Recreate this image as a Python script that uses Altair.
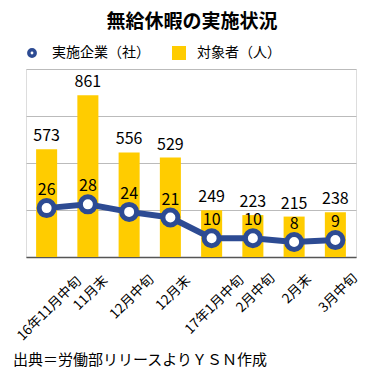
import altair as alt
import pandas as pd

# ---- data ----
categories = ["16年11月中旬", "11月末", "12月中旬", "12月末", "17年1月中旬", "2月中旬", "2月末", "3月中旬"]
workers = [573, 861, 556, 529, 249, 223, 215, 238]      # 対象者（人）
companies = [26, 28, 24, 21, 10, 10, 8, 9]              # 実施企業（社）
legend_labels = ["実施企業（社）", "対象者（人）"]
title_text = "無給休暇の実施状況"
source_text = "出典＝労働部リリースよりＹＳＮ作成"

df = pd.DataFrame({"cat": categories, "workers": workers, "companies": companies})

FONT = "Noto Sans CJK JP"
NAVY = "#2D4B93"
YELLOW = "#FFCC00"

x_enc = alt.X(
    "cat:N",
    sort=categories,
    scale=alt.Scale(paddingInner=0.49, paddingOuter=0.245),
    axis=alt.Axis(
        title=None, labelAngle=-45, labelAlign="center", labelBaseline="middle",
        labelFontSize=13.5, labelFont=FONT, labelColor="#000000",
        labelPadding={"expr": "20 + 3.9 * length(datum.label)"},
        labelOffset=3, labelOverlap=False, labelBound=False, labelFlush=False,
        ticks=False, grid=False,
        domainColor="#555555", domainWidth=1.5,
    ),
)

y_bar = alt.Y(
    "workers:Q",
    scale=alt.Scale(domain=[0, 1000], nice=False),
    axis=alt.Axis(title=None, labels=False, ticks=False, domain=False,
                  values=[0, 250, 500, 750, 1000], grid=True,
                  gridColor="#BBBBBB", gridWidth=1),
)
y_line = alt.Y("companies:Q", scale=alt.Scale(domain=[0, 100], nice=False), axis=None)

base = alt.Chart(df)

bars = base.mark_bar(color=YELLOW).encode(x=x_enc, y=y_bar)
bar_text = base.mark_text(font=FONT, fontSize=16, color="#000000", baseline="middle", dy=-13).encode(
    x=x_enc, y=y_bar, text=alt.Text("workers:Q"))
bar_layer = alt.layer(bars, bar_text)

line = base.mark_line(color=NAVY, strokeWidth=6).encode(x=x_enc, y=y_line)
pts = base.mark_circle(color="white", opacity=1, stroke=NAVY, strokeWidth=5, size=225).encode(x=x_enc, y=y_line)
line_text = base.mark_text(font=FONT, fontSize=16, color="#000000", baseline="middle", dy=-18).encode(
    x=x_enc, y=y_line, text=alt.Text("companies:Q"))
line_layer = alt.layer(line, pts, line_text)

main = alt.layer(bar_layer, line_layer).resolve_scale(y="independent")

# ---- title, legend, source as text ----
title_df = pd.DataFrame({"t": [title_text]})
title = alt.Chart(title_df).mark_text(font=FONT, fontSize=19, fontWeight="bold", color="#000000",
                                      align="center", baseline="middle").encode(
    x=alt.value(166), y=alt.value(-47), text="t:N")

leg1 = pd.DataFrame({"t": [legend_labels[0]]})
leg2 = pd.DataFrame({"t": [legend_labels[1]]})
leg_circle = alt.Chart(leg1).mark_point(shape="circle", filled=False, color=NAVY, strokeWidth=3.5, size=40, opacity=1).encode(
    x=alt.value(6), y=alt.value(-16))
leg_text1 = alt.Chart(leg1).mark_text(font=FONT, fontSize=14, color="#000000", align="left", baseline="middle").encode(
    x=alt.value(26), y=alt.value(-16), text="t:N")
leg_square = alt.Chart(leg2).mark_square(color=YELLOW, size=196, opacity=1).encode(
    x=alt.value(153), y=alt.value(-16))
leg_text2 = alt.Chart(leg2).mark_text(font=FONT, fontSize=14, color="#000000", align="left", baseline="middle").encode(
    x=alt.value(171), y=alt.value(-16), text="t:N")

src_df = pd.DataFrame({"t": [source_text]})
source = alt.Chart(src_df).mark_text(font=FONT, fontSize=15, color="#000000", align="left", baseline="middle").encode(
    x=alt.value(-13), y=alt.value(291), text="t:N")

chart = alt.layer(main, title, leg_circle, leg_text1, leg_square, leg_text2, source).properties(
    width=330, height=188,
    autosize=alt.AutoSizeParams(type="none"),
    padding={"left": 18, "top": 61, "right": 6, "bottom": 112},
).configure_view(stroke=None).configure(background="white")

chart.save("out.html", embed_options={"renderer": "svg", "actions": False})
